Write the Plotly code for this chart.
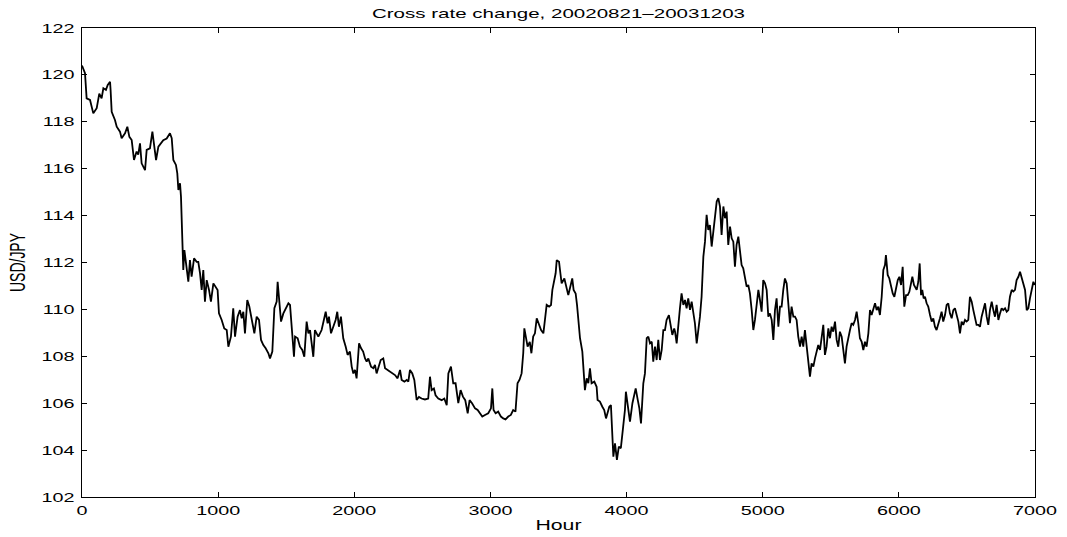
import plotly.graph_objects as go

# Hourly USD/JPY cross rate, 2002-08-21 .. 2003-12-03 (hour index, rate)
hour = [
    0, 22, 34, 59, 83, 108, 127, 144, 157, 176, 189, 206, 210, 218, 242, 255, 279, 291, 316, 333,
    348, 365, 382, 401, 413, 426, 438, 463, 475, 499, 517, 529, 544, 561, 578, 597, 622, 646, 659, 671,
    690, 700, 708, 720, 727, 737, 744, 752, 769, 781, 793, 805, 823, 842,
    854, 867, 879, 891, 903, 916, 933, 947, 965, 982, 996, 1006, 1026, 1045, 1063, 1075, 1094, 1111,
    1124, 1143, 1160, 1173, 1185, 1197, 1214, 1229, 1246, 1266, 1283, 1300, 1315, 1332, 1349, 1369,
    1381, 1398, 1413, 1430, 1437, 1447, 1462, 1479, 1496, 1516, 1528, 1540, 1557, 1565, 1584, 1601,
    1618, 1633, 1650, 1663, 1675, 1687, 1699,
    1711, 1736, 1760, 1772, 1790, 1804, 1814, 1829, 1846, 1863, 1875, 1887, 1902, 1911, 1919, 1937,
    1951, 1968, 1981, 1993, 2005, 2017, 2035, 2050, 2065, 2079, 2091, 2103, 2123, 2140, 2152, 2164,
    2182, 2194, 2213, 2226, 2245, 2262, 2279, 2299, 2318, 2336, 2348, 2368, 2385, 2397, 2409, 2426,
    2441, 2458, 2475, 2494, 2519, 2543, 2556, 2568, 2585,
    2597, 2617, 2642, 2661, 2679, 2691, 2710, 2727, 2744, 2764, 2781, 2798, 2815, 2833, 2847, 2865,
    2887, 2906, 2923, 2940, 2960, 2984, 3004, 3014, 3023, 3038, 3057, 3077, 3094, 3111, 3131, 3150,
    3167, 3184, 3199, 3214, 3229, 3241, 3249, 3259, 3273, 3289, 3301, 3314, 3327, 3340, 3357, 3372,
    3389, 3401, 3413, 3431, 3445, 3455, 3470, 3479, 3487,
    3504, 3511, 3523, 3543, 3560, 3572, 3584, 3601, 3611, 3626, 3636, 3645, 3658, 3675, 3685, 3694,
    3707, 3719, 3731, 3743, 3763, 3780, 3787, 3804, 3822, 3836, 3849, 3861, 3873, 3885, 3895, 3903,
    3915, 3929, 3943, 3958, 3975, 3988, 3995, 4008, 4025, 4043, 4057, 4067, 4082, 4094, 4106, 4116,
    4123, 4135, 4148, 4160, 4172, 4185, 4196, 4209, 4221, 4233, 4245, 4258, 4270, 4282, 4294, 4311,
    4326, 4336, 4350,
    4356, 4368, 4380, 4392, 4404, 4417, 4429, 4441, 4453, 4466, 4478, 4490, 4502, 4515, 4527, 4539,
    4551, 4564, 4576, 4588, 4600, 4612, 4625, 4637, 4649, 4662, 4674, 4686, 4698, 4711, 4723, 4735,
    4747, 4760, 4772, 4784, 4796, 4808, 4821, 4833, 4845, 4857, 4870, 4882, 4894, 4906, 4919, 4931,
    4943, 4955, 4968, 4980, 4992, 5004, 5017, 5029, 5041, 5053, 5066, 5078, 5090, 5102, 5115, 5127,
    5139, 5151, 5163, 5176, 5188, 5200, 5212, 5225,
    5237, 5249, 5261, 5274, 5286, 5298, 5310, 5323, 5335, 5347, 5359, 5372, 5384, 5396, 5408, 5421,
    5433, 5445, 5457, 5469, 5482, 5494, 5506, 5518, 5531, 5543, 5555, 5567, 5580, 5592, 5604, 5616,
    5629, 5641, 5653, 5665, 5678, 5690, 5702, 5714, 5727, 5739, 5751, 5763, 5776, 5788, 5800, 5812,
    5825, 5837, 5849, 5861, 5874, 5886, 5898, 5905, 5918, 5930, 5943, 5955, 5967, 5977, 5992, 6004,
    6016, 6028, 6040, 6053, 6065, 6077, 6089, 6099, 6111,
    6118, 6131, 6143, 6153, 6163, 6172, 6182, 6192, 6204, 6216, 6229, 6241, 6253, 6265, 6277, 6290,
    6302, 6314, 6326, 6339, 6351, 6363, 6375, 6388, 6400, 6412, 6424, 6437, 6449, 6461, 6473, 6486,
    6498, 6510, 6522, 6535, 6547, 6559, 6571, 6584, 6596, 6608, 6620, 6633, 6645, 6657, 6669, 6682,
    6694, 6706, 6718, 6731, 6743, 6755, 6767, 6780, 6792, 6804, 6816, 6829, 6841, 6853, 6865, 6878,
    6890, 6902, 6914, 6927, 6939, 6951, 6963, 6976, 6988, 6998,
]

usd_jpy = [
    120.40, 120.07, 119.00, 118.93, 118.36, 118.58, 119.20, 119.00, 119.43, 119.36, 119.57, 119.71, 119.36, 118.43, 118.08, 117.79, 117.58, 117.30, 117.51, 117.79,
    117.36, 117.22, 116.37, 116.73, 116.60, 117.08, 116.23, 115.94, 116.80, 116.87, 117.58, 116.94, 116.37, 116.94, 117.08, 117.22, 117.29, 117.51, 117.30, 116.37,
    116.16, 115.80, 115.09, 115.38, 114.81, 112.96, 111.68, 112.53, 111.82, 111.18, 112.10, 111.40, 112.18, 112.03,
    112.03, 111.54, 110.83, 111.68, 110.33, 111.25, 110.83, 110.33, 111.11, 110.97, 110.83, 109.83, 109.55, 109.19, 109.12, 108.41, 108.84, 110.05,
    108.84, 109.69, 109.97, 109.62, 109.90, 108.98, 110.40, 110.12, 109.55, 108.98, 109.69, 109.55, 108.70, 108.48, 108.34, 108.13,
    107.91, 108.20, 110.05, 110.33, 111.18, 110.33, 109.48, 109.83, 110.05, 110.26, 110.19, 109.26, 107.98, 108.84, 108.77, 108.41,
    108.27, 107.98, 109.48, 108.98, 109.12, 108.55, 107.98,
    109.12, 108.84, 109.12, 109.41, 109.90, 109.41, 109.69, 108.98, 109.26, 109.55, 109.90, 109.26, 109.69, 109.26, 108.77, 108.41,
    108.06, 108.20, 107.56, 107.27, 107.42, 107.06, 108.55, 108.34, 108.20, 107.91, 107.77, 107.91, 107.56, 107.49, 107.63, 107.27,
    107.56, 107.84, 107.91, 107.49, 107.42, 107.35, 107.27, 107.20, 107.06, 107.42, 106.99, 106.92, 106.99, 106.92, 107.42, 107.27,
    106.99, 106.14, 106.27, 106.20, 106.16, 106.20, 107.13, 106.56, 106.63,
    106.34, 106.20, 106.13, 106.20, 105.92, 107.27, 107.56, 106.85, 106.85, 106.00, 106.56, 106.28, 106.13, 105.57, 106.13, 106.00,
    105.78, 105.71, 105.57, 105.43, 105.50, 105.57, 105.78, 106.63, 105.71, 105.57, 105.64, 105.43, 105.35, 105.31, 105.43, 105.50,
    105.71, 105.64, 106.85, 107.00, 107.27, 108.13, 109.19, 108.84, 108.41, 108.62, 108.13, 108.84, 108.98, 109.62, 109.34, 109.12,
    108.98, 109.48, 110.19, 110.12, 110.19, 110.83, 111.25, 111.54, 112.10,
    112.03, 111.68, 111.11, 111.32, 110.97, 110.61, 110.90, 111.32, 110.83, 110.68, 110.19, 109.55, 108.77, 108.20, 107.27, 106.56,
    107.06, 106.85, 107.49, 106.85, 106.92, 106.70, 106.14, 106.07, 105.85, 105.71, 105.35, 105.64, 105.85, 105.92, 104.72, 103.72,
    104.29, 103.58, 104.15, 104.08, 105.00, 105.71, 106.49, 106.00, 105.21, 106.00, 106.42, 106.63, 106.14, 105.78, 105.14, 106.28,
    106.85, 107.27, 108.77, 108.84, 108.55, 108.62, 107.77, 108.41, 107.84, 108.70, 107.84, 108.27, 109.12, 109.12, 109.55, 109.76,
    109.26, 108.91, 109.19,
    109.05, 108.55, 109.41, 110.05, 110.68, 110.19, 110.40, 110.05, 110.47, 109.98, 110.33, 109.83, 109.41, 108.55, 109.12, 109.69,
    110.54, 112.25, 112.89, 114.03, 113.39, 113.60, 112.68, 113.25, 113.96, 114.60, 114.74, 114.39, 113.17, 114.39, 113.89, 114.17,
    112.75, 113.53, 113.03, 112.89, 111.82, 112.75, 113.10, 112.60, 111.89, 111.75, 111.39, 110.97, 111.04, 110.68, 109.97, 109.12,
    109.55, 110.26, 110.83, 110.40, 109.90, 111.25, 111.11, 110.83, 109.69, 109.83, 109.55, 108.70, 109.97, 110.47, 109.26, 110.12,
    110.12, 110.83, 111.32, 111.11, 110.26, 109.41, 110.12, 109.69,
    109.69, 109.55, 108.84, 108.41, 108.84, 108.41, 109.12, 108.48, 107.98, 107.13, 107.70, 107.56, 107.91, 108.27, 108.48, 108.27,
    108.77, 109.34, 108.06, 108.41, 109.19, 108.77, 109.26, 109.05, 109.48, 108.70, 108.41, 109.05, 108.84, 108.34, 107.70, 108.41,
    108.84, 109.12, 109.41, 109.34, 109.55, 109.90, 109.41, 108.77, 108.62, 108.27, 108.62, 108.41, 108.98, 109.97, 109.76, 110.05,
    110.26, 109.97, 110.12, 109.76, 110.54, 111.68, 111.89, 112.32, 111.47, 111.32, 110.97, 110.68, 110.54, 110.83, 111.25, 111.39,
    111.04, 111.82, 110.12, 110.61, 110.61, 110.75, 111.11, 111.39, 111.04,
    110.97, 110.83, 111.18, 111.96, 110.61, 110.83, 110.47, 110.54, 110.26, 110.12, 109.76, 109.48, 109.62, 109.26, 109.12, 109.34,
    109.62, 109.90, 109.48, 109.76, 110.19, 110.26, 109.83, 109.62, 109.97, 110.05, 109.76, 109.48, 108.98, 109.48, 109.34, 109.55,
    109.48, 109.55, 110.54, 110.33, 109.97, 109.69, 109.34, 109.34, 109.26, 109.69, 109.97, 110.26, 109.69, 109.34, 109.97, 110.33,
    109.97, 109.69, 110.19, 109.55, 109.83, 110.05, 109.97, 110.05, 109.90, 109.97, 110.54, 110.83, 110.76, 110.83, 111.25, 111.39,
    111.61, 111.39, 111.11, 110.83, 109.97, 110.05, 110.47, 110.83, 111.18, 111.04,
]

x_ticks = list(range(0, 7001, 1000))
y_ticks = list(range(102, 123, 2))

FONT = "Liberation Sans, Arial, Helvetica, sans-serif"

fig = go.Figure()
fig.add_trace(go.Scatter(
    x=hour, y=usd_jpy, mode="lines",
    line=dict(color="black", width=1.8),
    showlegend=False, hoverinfo="skip",
))

axis_common = dict(
    showgrid=False, zeroline=False, automargin=False,
    showline=True, linecolor="black", linewidth=1, mirror="ticks",
    ticks="inside", ticklen=5, tickwidth=1, tickcolor="black",
    tickfont=dict(family=FONT, size=13, color="black"),
)

fig.update_layout(
    width=1067, height=537, autosize=False,
    margin=dict(l=82, r=32, t=28, b=40),
    paper_bgcolor="white", plot_bgcolor="white",
    font=dict(family=FONT, color="black"),
    title=dict(
        text="Cross rate change, 20020821\u201320031203",
        x=0.5, xref="paper", y=1 - 13 / 537, yref="container",
        xanchor="center", yanchor="middle",
        font=dict(family=FONT, size=13.5, color="black"),
    ),
    xaxis=dict(range=[0, 7000], tickvals=x_ticks, ticklabelstandoff=1,
               title=dict(text="Hour", standoff=3, font=dict(family=FONT, size=14)),
               **axis_common),
    yaxis=dict(range=[102, 122], tickvals=y_ticks, ticklabelstandoff=4,
               title=dict(text="USD/JPY", standoff=26, font=dict(family=FONT, size=14)),
               **axis_common),
)

# Wide, Helvetica-like lettering: stretch every label horizontally.
widen_text = """
var gd = document.getElementById('{plot_id}');
function widenLabels() {
  var k = 1.52;
  gd.querySelectorAll('text').forEach(function (t) {
    var tr = t.getAttribute('transform') || '';
    if (tr.indexOf('rotate') >= 0) {
      if (tr.indexOf('scale') < 0) {
        var c = parseFloat(t.getAttribute('y')) - 5;
        t.setAttribute('transform', tr + ' translate(0,' + c + ') scale(1,' + k + ') translate(0,' + (-c) + ')');
      }
    } else if (!t.hasAttribute('textLength')) {
      var w = t.getComputedTextLength();
      if (w > 0) {
        t.setAttribute('textLength', w * k);
        t.setAttribute('lengthAdjust', 'spacingAndGlyphs');
      }
    }
  });
}
widenLabels();
gd.on('plotly_afterplot', widenLabels);
"""

fig.write_html("out.html", config={"displayModeBar": False}, post_script=widen_text)
